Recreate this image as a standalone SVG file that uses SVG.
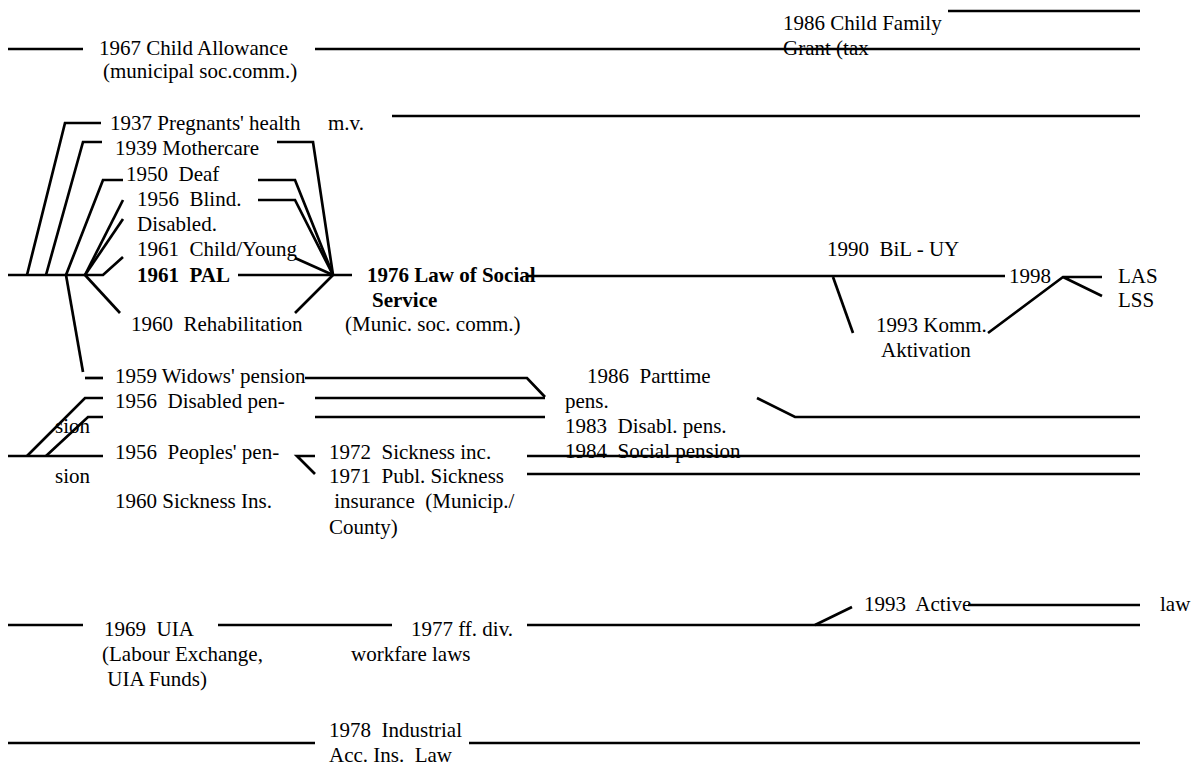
<svg xmlns="http://www.w3.org/2000/svg" width="1194" height="766" viewBox="0 0 1194 766" xml:space="preserve">
  <style>
    text { font-family: "Liberation Serif", "Times New Roman", serif; font-size: 21px; fill: #000; white-space: pre; }
    .b { font-weight: bold; }
    .ln { stroke: #000; stroke-width: 2.7; fill: none; stroke-linecap: butt; stroke-linejoin: miter; }
  </style>
  <rect width="1194" height="766" fill="#fff"/>

  <!-- timeline strokes -->
  <g id="connectors" class="ln">
    <!-- child allowance band -->
    <path d="M8 49H83M315 49H1140M948 11H1140M392 116H1140"/>
    <!-- left fan feeding the 1961 main line -->
    <path d="M27 275L65 123H101"/>
    <path d="M46 275L83 142H102"/>
    <path d="M66 275L103 180H123"/>
    <path d="M85 275L123 200"/>
    <path d="M85 275L123 219"/>
    <path d="M8 275H103L123 257"/>
    <path d="M85 275L120 313"/>
    <path d="M66 275L83 372"/>
    <path d="M85 378H103"/>
    <!-- right fan converging on 1976 -->
    <path d="M277 142H313L333 275"/>
    <path d="M258 180H295L333 275"/>
    <path d="M258 200H295L333 275"/>
    <path d="M295 258L333 275"/>
    <path d="M295 313L333 275"/>
    <path d="M238 275H352"/>
    <!-- social service line onwards -->
    <path d="M527 276H1005"/>
    <path d="M833 277L853 333"/>
    <path d="M988 333L1063 277H1102M1063 277L1102 296"/>
    <!-- pensions -->
    <path d="M305 378H527L545 397"/>
    <path d="M103 398H85L27 456"/>
    <path d="M103 417H88L46 456"/>
    <path d="M315 398H545M315 417H545"/>
    <path d="M8 456H103"/>
    <path d="M315 456H297L315 474"/>
    <path d="M527 456H1140M527 474H1140"/>
    <path d="M757 398L795 417H1140"/>
    <!-- labour market -->
    <path d="M8 625H83M218 625H392M527 625H1140"/>
    <path d="M815 625L852 607"/>
    <path d="M968 605H1140"/>
    <!-- industrial accident -->
    <path d="M8 743H315M469 743H1140"/>
  </g>

  <g id="child-allowance">
    <text x="99" y="55">1967 Child Allowance</text>
    <text x="103" y="78">(municipal soc.comm.)</text>
  </g>
  <g id="child-family-grant">
    <text x="783" y="30">1986 Child Family</text>
    <text x="783" y="55">Grant (tax</text>
  </g>
  <g id="pregnants-health">
    <text x="110" y="130">1937 Pregnants' health</text>
    <text x="328" y="130">m.v.</text>
  </g>
  <g id="mothercare"><text x="115" y="155">1939 Mothercare</text></g>
  <g id="deaf"><text x="126" y="181">1950  Deaf</text></g>
  <g id="blind-disabled">
    <text x="137" y="206">1956  Blind.</text>
    <text x="137" y="231">Disabled.</text>
  </g>
  <g id="child-young"><text x="137" y="256">1961  Child/Young</text></g>
  <g id="pal"><text class="b" x="137" y="282">1961  PAL</text></g>
  <g id="rehabilitation"><text x="131" y="331">1960  Rehabilitation</text></g>
  <g id="social-service">
    <text class="b" x="367" y="282">1976 Law of Social</text>
    <text class="b" x="372" y="307">Service</text>
    <text x="345" y="331">(Munic. soc. comm.)</text>
  </g>
  <g id="bil-uy"><text x="827" y="256">1990  BiL - UY</text></g>
  <g id="y1998"><text x="1009" y="283">1998</text></g>
  <g id="las-lss">
    <text x="1118" y="283">LAS</text>
    <text x="1118" y="307">LSS</text>
  </g>
  <g id="komm-aktivation">
    <text x="876" y="332">1993 Komm.</text>
    <text x="881" y="357">Aktivation</text>
  </g>

  <g id="widows-pension"><text x="115" y="383">1959 Widows' pension</text></g>
  <g id="disabled-pension">
    <text x="115" y="408">1956  Disabled pen-</text>
    <text x="55" y="433">sion</text>
  </g>
  <g id="peoples-pension">
    <text x="115" y="459">1956  Peoples' pen-</text>
    <text x="55" y="483">sion</text>
  </g>
  <g id="sickness-ins"><text x="115" y="508">1960 Sickness Ins.</text></g>
  <g id="sickness-municip">
    <text x="329" y="459">1972  Sickness inc.</text>
    <text x="329" y="483">1971  Publ. Sickness</text>
    <text x="329" y="508"> insurance  (Municip./</text>
    <text x="329" y="534">County)</text>
  </g>
  <g id="later-pensions">
    <text x="587" y="383">1986  Parttime</text>
    <text x="565" y="408">pens.</text>
    <text x="565" y="433">1983  Disabl. pens.</text>
    <text x="565" y="458">1984  Social pension</text>
  </g>

  <g id="active-law">
    <text x="864" y="611">1993  Active</text>
    <text x="1160" y="611">law</text>
  </g>
  <g id="uia">
    <text x="104" y="636">1969  UIA</text>
    <text x="102" y="661">(Labour Exchange,</text>
    <text x="102" y="686"> UIA Funds)</text>
  </g>
  <g id="workfare">
    <text x="411" y="636">1977 ff. div.</text>
    <text x="351" y="661">workfare laws</text>
  </g>
  <g id="industrial-accident">
    <text x="329" y="737">1978  Industrial</text>
    <text x="329" y="762">Acc. Ins.  Law</text>
  </g>
</svg>
